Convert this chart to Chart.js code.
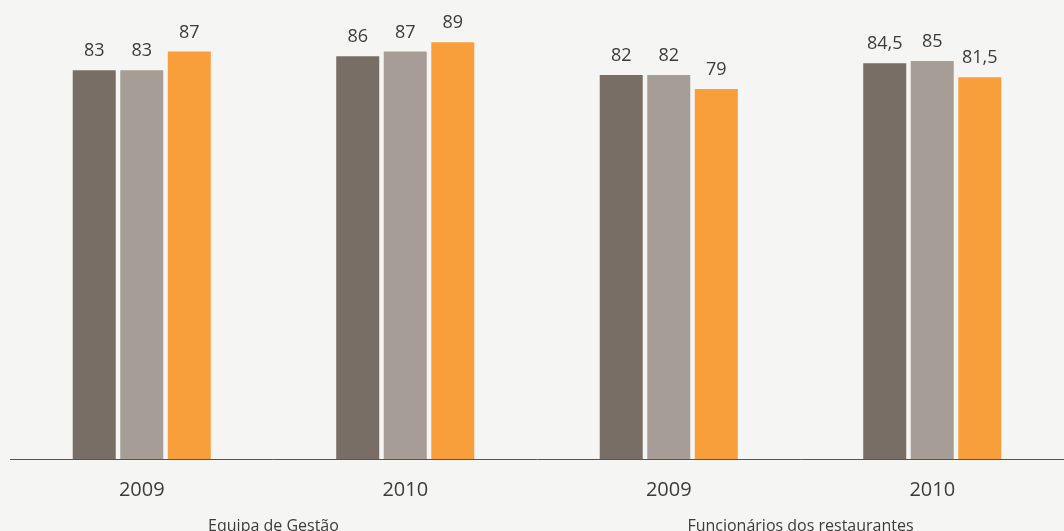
<!DOCTYPE html>
<html lang="pt">
<head>
<meta charset="utf-8">
<title>Satisfação</title>
<script src="https://cdn.jsdelivr.net/npm/chart.js@4"></script>
<style>
    html, body { margin: 0; padding: 0; background: #f5f5f3; }
    #wrap { width: 1064px; height: 531px; }
</style>
</head>
<body>
<div id="wrap"><canvas id="grafico" width="1064" height="531"></canvas></div>
<script>
// Dados do gráfico
const anos = ['2009', '2010', '2009', '2010'];
const grupos = ['Equipa de Gestão', 'Funcionários dos restaurantes'];
const serie1 = [83, 86, 82, 84.5];
const serie2 = [83, 87, 82, 85];
const serie3 = [87, 89, 79, 81.5];

const corTexto = '#3c3c3c';
const fonte = '"Open Sans", "Noto Sans", sans-serif';

// Escreve o valor por cima de cada barra (vírgula decimal)
const valoresPlugin = {
    id: 'valores',
    afterDatasetsDraw(chart) {
        const ctx = chart.ctx;
        ctx.save();
        ctx.font = '18px ' + fonte;
        ctx.fillStyle = corTexto;
        ctx.textAlign = 'center';
        ctx.textBaseline = 'alphabetic';
        chart.data.datasets.forEach((ds, i) => {
            const meta = chart.getDatasetMeta(i);
            meta.data.forEach((barra, j) => {
                const txt = String(ds.data[j]).replace('.', ',');
                ctx.fillText(txt, barra.x, barra.y - 14);
            });
        });
        ctx.restore();
    }
};

// Nome de cada grupo, centrado entre os seus dois anos
const gruposPlugin = {
    id: 'grupos',
    afterDraw(chart) {
        const ctx = chart.ctx;
        const x = chart.scales.x;
        ctx.save();
        ctx.font = '16px ' + fonte;
        ctx.fillStyle = corTexto;
        ctx.textAlign = 'center';
        ctx.textBaseline = 'middle';
        grupos.forEach((nome, g) => {
            const cx = (x.getPixelForValue(g * 2) + x.getPixelForValue(g * 2 + 1)) / 2;
            ctx.fillText(nome, cx, chart.height - 5);
        });
        ctx.restore();
    }
};

const ctx = document.getElementById('grafico').getContext('2d');
const grafico = new Chart(ctx, {
    type: 'bar',
    data: {
        labels: anos,
        datasets: [
            { label: 'Série 1', data: serie1, backgroundColor: '#786e65' },
            { label: 'Série 2', data: serie2, backgroundColor: '#a69e96' },
            { label: 'Série 3', data: serie3, backgroundColor: '#f89f3b' }
        ]
    },
    options: {
        responsive: false,
        animation: false,
        categoryPercentage: 0.541,
        barPercentage: 0.905,
        layout: {
            padding: { left: 10, right: 0, top: 0, bottom: 10 }
        },
        plugins: {
            legend: { display: false },
            tooltip: { enabled: false }
        },
        scales: {
            y: {
                display: false,
                min: 0,
                max: 98
            },
            x: {
                grid: { display: false, drawTicks: false },
                border: { display: true, color: '#555555', width: 1 },
                ticks: {
                    padding: 19,
                    color: corTexto,
                    font: { family: fonte, size: 20 }
                }
            }
        }
    },
    plugins: [valoresPlugin, gruposPlugin]
});
</script>
</body>
</html>
